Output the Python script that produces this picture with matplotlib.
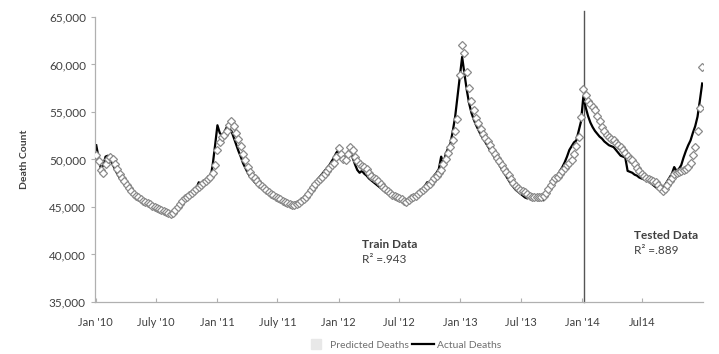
import matplotlib
matplotlib.use("Agg")
import matplotlib.pyplot as plt
import matplotlib.ticker as mticker
import numpy as np
import pandas as pd

# weekly death counts, in thousands
pred_2010 = [50.5, 49.8, 48.9, 48.6, 49.5, 50.0, 50.3, 50.0, 49.5, 49.0,
             48.5, 48.1, 47.7, 47.3, 47.0, 46.7, 46.4, 46.2, 46.0, 45.8,
             45.6, 45.5, 45.4, 45.3, 45.1, 45.0, 44.9, 44.8, 44.7, 44.6,
             44.5, 44.4, 44.3, 44.4, 44.7, 45.0, 45.3, 45.6, 45.9, 46.1,
             46.3, 46.5, 46.7, 46.9, 47.1, 47.3, 47.5, 47.7, 47.9, 48.2,
             48.6, 49.4]
act_2010 = [51.5, 50.2, 49.0, 49.4, 50.3, 50.4, 50.0, 49.5, 49.0, 48.5,
            48.1, 47.7, 47.4, 47.1, 46.8, 46.6, 46.4, 46.2, 46.0, 45.8,
            45.7, 45.6, 45.4, 45.3, 45.1, 45.0, 44.9, 44.8, 44.7, 44.6,
            44.5, 44.4, 44.3, 44.5, 44.8, 45.1, 45.4, 45.6, 45.9, 46.0,
            46.3, 46.4, 46.7, 47.0, 47.6, 47.2, 47.4, 47.6, 48.2, 48.0,
            49.5, 51.5]
pred_2011 = [51.0, 51.8, 52.4, 52.6, 53.0, 53.6, 54.0, 53.5, 52.8, 52.2,
             51.4, 50.6, 49.9, 49.2, 48.7, 48.3, 48.0, 47.7, 47.4, 47.2,
             47.0, 46.8, 46.6, 46.4, 46.3, 46.1, 45.9, 45.8, 45.6, 45.5,
             45.4, 45.3, 45.2, 45.2, 45.3, 45.4, 45.6, 45.8, 46.1, 46.4,
             46.8, 47.1, 47.4, 47.7, 47.9, 48.2, 48.5, 48.8, 49.1, 49.4,
             49.6, 50.3]
act_2011 = [53.6, 52.8, 52.5, 52.9, 53.4, 53.2, 53.0, 52.3, 51.6, 50.9,
            50.3, 49.6, 49.1, 48.6, 48.2, 47.9, 47.6, 47.4, 47.2, 47.0,
            46.8, 46.7, 46.5, 46.3, 46.2, 46.0, 45.9, 45.7, 45.6, 45.5,
            45.4, 45.3, 45.3, 45.4, 45.5, 45.6, 45.8, 46.0, 46.3, 46.6,
            46.9, 47.3, 47.6, 47.9, 48.2, 48.5, 48.8, 49.1, 49.4, 49.8,
            50.2, 50.7]
pred_2012 = [51.2, 50.6, 50.0, 49.9, 50.6, 51.3, 51.0, 50.3, 49.8, 49.5,
             49.3, 49.2, 49.0, 48.6, 48.3, 48.1, 47.9, 47.7, 47.4, 47.1,
             46.9, 46.7, 46.5, 46.3, 46.2, 46.0, 45.9, 45.8, 45.6, 45.5,
             45.7, 45.9, 46.0, 46.2, 46.4, 46.6, 46.8, 47.0, 47.2, 47.4,
             47.7, 48.0, 48.3, 48.6, 48.9, 49.5, 50.1, 50.7, 51.3, 52.0,
             53.0, 54.3]
act_2012 = [51.0, 50.4, 49.8, 50.0, 50.8, 51.0, 50.2, 49.5, 48.9, 48.6,
            48.8, 48.5, 48.3, 48.0, 47.8, 47.6, 47.4, 47.2, 47.0, 46.8,
            46.6, 46.4, 46.3, 46.1, 46.0, 45.9, 45.8, 45.7, 45.6, 45.7,
            45.8, 45.9, 46.1, 46.3, 46.5, 46.7, 46.9, 47.2, 47.6, 47.3,
            47.8, 48.3, 48.6, 49.0, 50.3, 49.6, 50.6, 51.2, 51.7, 53.0,
            54.5, 56.6]
pred_2013 = [58.9, 62.0, 61.2, 59.2, 57.5, 56.2, 55.2, 54.4, 53.8, 53.2,
             52.7, 52.3, 51.9, 51.5, 51.0, 50.6, 50.2, 49.8, 49.4, 49.0,
             48.7, 48.4, 47.9, 47.5, 47.2, 47.0, 46.8, 46.7, 46.6, 46.4,
             46.2, 46.1, 46.0, 46.1, 46.0, 46.1, 46.2, 46.5, 46.9, 47.3,
             47.7, 48.0, 48.2, 48.5, 48.8, 49.1, 49.4, 49.6, 49.9, 50.6,
             51.4, 52.4]
act_2013 = [58.8, 60.8, 59.0, 57.3, 55.9, 54.9, 54.2, 53.6, 53.1, 52.6,
            52.2, 51.8, 51.4, 51.0, 50.6, 50.2, 49.8, 49.4, 49.0, 48.6,
            48.2, 47.8, 47.4, 47.1, 46.8, 46.6, 46.4, 46.2, 46.0, 45.9,
            46.2, 45.8, 46.0, 45.8, 45.7, 46.0, 45.7, 46.3, 46.8, 47.2,
            47.6, 48.0, 48.4, 48.8, 49.2, 49.7, 50.3, 51.0, 51.4, 51.8,
            52.0, 53.0]
pred_2014 = [54.5, 57.4, 56.8, 56.2, 55.8, 55.5, 55.2, 54.6, 54.0, 53.4,
             53.0, 52.6, 52.4, 52.2, 52.0, 51.7, 51.5, 51.3, 51.0, 50.7,
             50.4, 50.1, 49.9, 49.5, 49.1, 48.8, 48.5, 48.3, 48.1, 47.9,
             47.8, 47.7, 47.6, 47.3, 47.0, 46.7, 46.9, 47.3, 47.7, 48.1,
             48.5, 48.6, 48.7, 48.8, 48.9, 49.0, 49.2, 49.6, 50.5, 51.3,
             53.0, 55.4, 59.7]
act_2014 = [54.0, 56.6, 55.5, 54.6, 53.9, 53.4, 53.0, 52.7, 52.4, 52.2,
            51.9, 51.7, 51.5, 51.4, 51.3, 51.0, 50.7, 50.4, 50.3, 50.2,
            48.8, 48.7, 48.6, 48.4, 48.3, 48.1, 48.0, 47.9, 47.8, 47.8,
            47.5, 47.3, 47.1, 46.9, 46.7, 47.0, 47.3, 47.7, 48.1, 48.5,
            49.2, 48.8, 49.0, 49.4, 50.2, 50.9, 51.5, 52.0, 52.8, 53.5,
            54.5, 56.2, 58.0]

tick_dates = ["2010-01-01", "2010-07-01", "2011-01-01", "2011-07-01", "2012-01-01",
              "2012-07-01", "2013-01-01", "2013-07-01", "2014-01-01", "2014-07-01"]
tick_labels = ["Jan '10", "July '10", "Jan '11", "July '11", "Jan '12",
               "Jul '12", "Jan '13", "Jul '13", "Jan '14", "Jul14"]
split_date = "2014-01-08"

predicted = np.array(pred_2010 + pred_2011 + pred_2012 + pred_2013 + pred_2014) * 1000
actual = np.array(act_2010 + act_2011 + act_2012 + act_2013 + act_2014) * 1000
weeks = pd.date_range("2010-01-03", periods=len(actual), freq="7D")

plt.rcParams["font.family"] = ["Lato", "DejaVu Sans"]
txt = "#404040"

fig = plt.figure(figsize=(7.19, 3.54), dpi=100)
ax = fig.add_axes([0.132, 0.147, 0.846, 0.805])

ax.plot(weeks, actual, color="black", lw=1.6, zorder=2, label="Actual Deaths")
ax.plot(weeks, predicted, ls="none", marker="D", ms=4.2, mfc="white",
        mec="#8a8a8a", mew=0.9, zorder=3, label="Predicted Deaths")
ax.axvline(pd.Timestamp(split_date), ymax=1.02, color="#555555", lw=1.0,
           zorder=1, clip_on=False)

ax.set_ylim(35000, 65000)
ax.set_xlim(pd.Timestamp("2009-12-30"), pd.Timestamp("2014-12-31"))
ax.yaxis.set_major_locator(mticker.MultipleLocator(5000))
ax.yaxis.set_major_formatter(mticker.StrMethodFormatter("{x:,.0f}"))
ax.set_xticks([pd.Timestamp(d) for d in tick_dates])
ax.set_xticklabels(tick_labels)

for s in ["top", "right"]:
    ax.spines[s].set_visible(False)
for s in ["left", "bottom"]:
    ax.spines[s].set_color("#b0b0b0")
    ax.spines[s].set_linewidth(0.9)
ax.tick_params(axis="y", colors="#b0b0b0", labelcolor=txt, labelsize=8.5, length=3)
ax.tick_params(axis="x", colors="#b0b0b0", labelcolor=txt, labelsize=8,
               length=3, direction="in", pad=11)
ax.set_ylabel("Death Count", fontsize=7.5, fontweight="bold", color=txt, labelpad=14)

ax.text(pd.Timestamp("2012-03-10"), 40700, "Train Data", fontsize=8.5,
        fontweight="bold", color=txt)
ax.text(pd.Timestamp("2012-03-10"), 39100, "R² =.943", fontsize=8.5, color=txt)
ax.text(pd.Timestamp("2014-06-06"), 41600, "Tested Data", fontsize=8.5,
        fontweight="bold", color=txt)
ax.text(pd.Timestamp("2014-06-06"), 40000, "R² =.889", fontsize=8.5, color=txt)

handles, labels = ax.get_legend_handles_labels()
leg_handles = [plt.Line2D([], [], ls="none", marker="s", ms=7, mfc="#e8e8e8", mec="#e8e8e8"),
               handles[0]]
fig.legend(leg_handles, ["Predicted Deaths", "Actual Deaths"], loc="lower center",
           bbox_to_anchor=(0.56, -0.015), ncol=2, frameon=False, fontsize=7.5,
           labelcolor="#707070", handlelength=2.2, columnspacing=0.3, handletextpad=0.2)

fig.savefig("out.png", dpi=100)
